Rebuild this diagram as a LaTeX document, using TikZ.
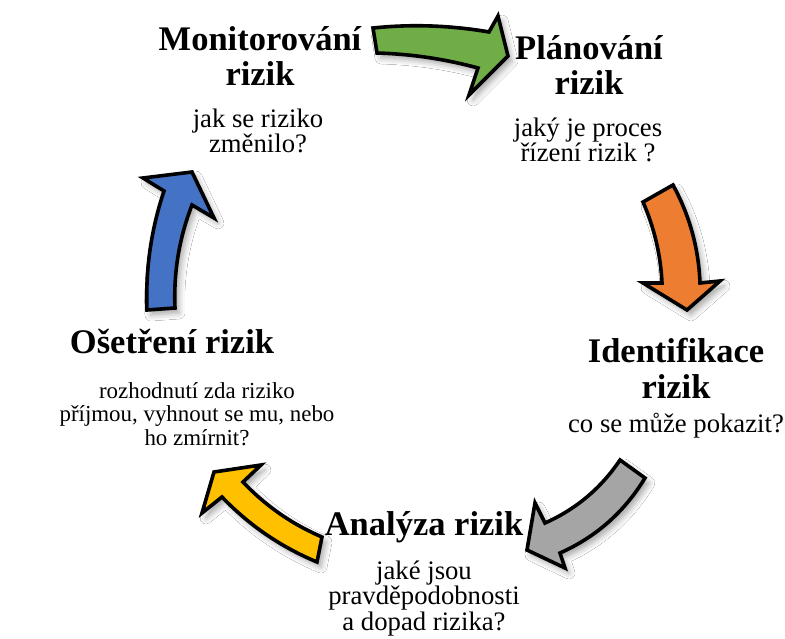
\documentclass[tikz,border=0pt]{standalone}
\usepackage{fontspec}
\setmainfont{Liberation Serif}
\usetikzlibrary{calc,shadows.blur}

\definecolor{arrowgreen}{HTML}{70AD47}
\definecolor{arroworange}{HTML}{ED7D31}
\definecolor{arrowgray}{HTML}{A5A5A5}
\definecolor{arrowyellow}{HTML}{FFC000}
\definecolor{arrowblue}{HTML}{4472C4}

% curved block arrow from named points <p>t1 ... <p>t2; edges are quadratic curves
\newcommand\cyclearrow[2]{%
  \draw[arrowshape, fill=#2]
    (#1t1) .. controls ($(#1t1)!2/3!(#1q1)$) and ($(#1j1)!2/3!(#1q1)$) .. (#1j1)
    -- (#1b1) -- (#1tip) -- (#1b2) -- (#1j2)
    .. controls ($(#1j2)!2/3!(#1q2)$) and ($(#1t2)!2/3!(#1q2)$) .. (#1t2) -- cycle;}

% base anchor of a multi-line node = baseline of its last line
\tikzset{
  arrowshape/.style={draw=black, line width=3.6pt, line join=miter,
    blur shadow={shadow xshift=4pt, shadow yshift=-5pt, shadow blur radius=6pt, shadow opacity=35}},
  heading/.style={anchor=base, align=center, inner sep=0pt,
    font=\fontsize{34.5}{35.5}\selectfont\bfseries},
  question/.style={anchor=base, align=center, inner sep=0pt,
    font=\fontsize{26.7}{24}\selectfont},
  smallquestion/.style={anchor=base, align=center, inner sep=0pt,
    font=\fontsize{22.9}{23.5}\selectfont},
}

\begin{document}
\begin{tikzpicture}[x=1pt, y=-1pt]
\useasboundingbox (0,0) rectangle (785,639);
\fill[white] (0,0) rectangle (785,639);

% green: monitoring -> planning
\coordinate (gt1) at (373,28);  \coordinate (gq1) at (431,22);  \coordinate (gj1) at (489,32);
\coordinate (gb1) at (498,16);  \coordinate (gtip) at (508,56); \coordinate (gb2) at (469,95);
\coordinate (gj2) at (478,68);  \coordinate (gq2) at (428.4,54.5); \coordinate (gt2) at (377,53);
\cyclearrow{g}{arrowgreen}

% orange: planning -> identification
\coordinate (ot1) at (673,185); \coordinate (oq1) at (698,231); \coordinate (oj1) at (700,283);
\coordinate (ob1) at (720,281); \coordinate (otip) at (687,310); \coordinate (ob2) at (643,283);
\coordinate (oj2) at (662,283); \coordinate (oq2) at (660,241); \coordinate (ot2) at (643,202);
\cyclearrow{o}{arroworange}

% gray: identification -> analysis
\coordinate (rt1) at (645,478); \coordinate (rq1) at (614,529); \coordinate (rj1) at (560,553);
\coordinate (rb1) at (565,568); \coordinate (rtip) at (527,550); \coordinate (rb2) at (535,503);
\coordinate (rj2) at (545,523); \coordinate (rq2) at (591.5,502.3); \coordinate (rt2) at (620,460);
\cyclearrow{r}{arrowgray}

% yellow: analysis -> treatment
\coordinate (yt1) at (317,562); \coordinate (yq1) at (262.7,539.4); \coordinate (yj1) at (222,497);
\coordinate (yb1) at (202,513); \coordinate (ytip) at (214,472); \coordinate (yb2) at (261,465);
\coordinate (yj2) at (243,482); \coordinate (yq2) at (276.8,517.7); \coordinate (yt2) at (322,537);
\cyclearrow{y}{arrowyellow}

% blue: treatment -> monitoring
\coordinate (bt1) at (175,308); \coordinate (bq1) at (172.7,254.7); \coordinate (bj1) at (192,205);
\coordinate (bb1) at (214,218); \coordinate (btip) at (192,172); \coordinate (bb2) at (143,178);
\coordinate (bj2) at (164,191); \coordinate (bq2) at (144.6,249); \coordinate (bt2) at (147,310);
\cyclearrow{b}{arrowblue}

% stage titles and questions
\node[heading]  (monitor)  at (260,86)  {Monitorování\\rizik};
\node[question] (monitorq) at (258,153) {jak se riziko\\změnilo?};

\node[heading]  (plan)  at (589,95)  {Plánování\\rizik};
\node[question] (planq) at (588,162) {jaký je proces\\řízení rizik ?};

\node[heading]  (ident)  at (676,398) {Identifikace\\rizik};
\node[question] (identq) at (676,432) {co se může pokazit?};

\node[heading]  (anal)  at (424,535) {Analýza rizik};
\node[question] (analq) at (424,630) {jaké jsou\\pravděpodobnosti\\a dopad rizika?};

\node[heading]  (treat)  at (172,353) {Ošetření rizik};
\node[smallquestion] (treatq) at (197,445) {rozhodnutí zda riziko\\příjmou, vyhnout se mu, nebo\\ho zmírnit?};
\end{tikzpicture}
\end{document}
